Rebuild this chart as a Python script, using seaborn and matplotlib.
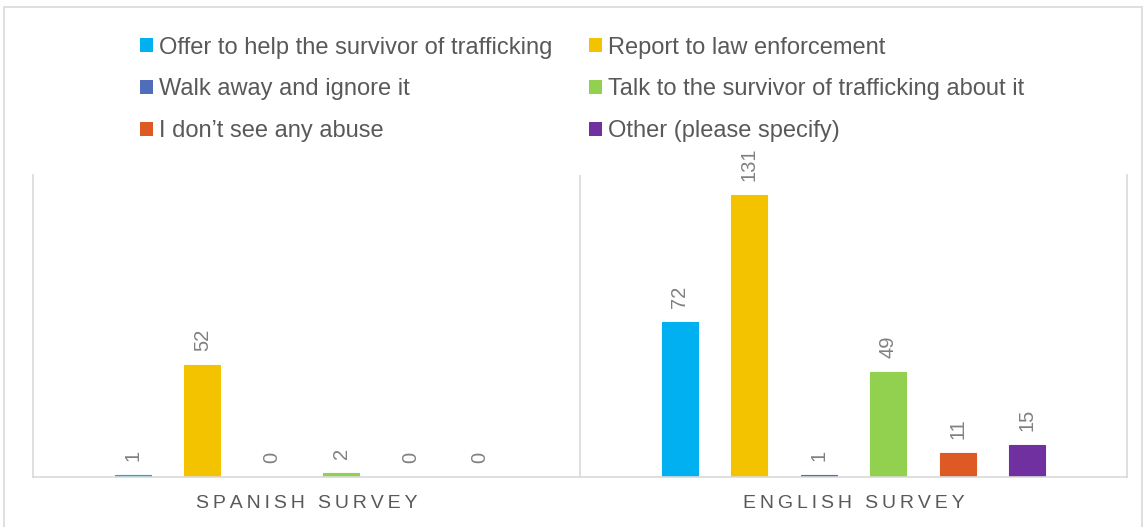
import matplotlib
matplotlib.use("Agg")
import matplotlib.pyplot as plt
import seaborn as sns
import pandas as pd
from matplotlib.patches import Rectangle, Patch

# Survey responses per group
surveys = ["SPANISH SURVEY", "ENGLISH SURVEY"]
responses = [
    "Offer to help the survivor of trafficking",
    "Report to law enforcement",
    "Walk away and ignore it",
    "Talk to the survivor of trafficking about it",
    "I don\u2019t see any abuse",
    "Other (please specify)",
]
spanish_counts = [1, 52, 0, 2, 0, 0]
english_counts = [72, 131, 1, 49, 11, 15]
colors = ["#00B0F0", "#F3C300", "#4F6DB8", "#92D050", "#DD5A24", "#7030A0"]

rows = []
for survey, counts in zip(surveys, [spanish_counts, english_counts]):
    for resp, c in zip(responses, counts):
        rows.append({"survey": survey, "response": resp, "count": c})
df = pd.DataFrame(rows)

sns.set_theme(style="white")
plt.rcParams["font.family"] = ["Liberation Sans", "DejaVu Sans"]

fig = plt.figure(figsize=(11.46, 5.27), dpi=100)
ax = fig.add_axes([0.0288, 0.0949, 0.9546, 0.5731])

sns.barplot(
    data=df, x="survey", y="count", hue="response", hue_order=responses,
    order=surveys, palette=colors, width=0.762, gap=0.48, ax=ax,
    legend=False, saturation=1, errorbar=None,
)
# thin outline in the fill colour keeps very small bars visible
for container in ax.containers:
    for bar in container:
        bar.set_edgecolor(bar.get_facecolor())
        bar.set_linewidth(0.8)

ax.set_xlim(-0.5, 1.5)
ax.set_ylim(0, 140.3)
ax.set_yticks([])
ax.set_xlabel("")
ax.set_ylabel("")

# Letter-spaced category labels
def spaced(s):
    return "\u2009".join(s)

ax.set_xticks([0, 1])
ax.set_xticklabels([spaced(s) for s in surveys])
ax.tick_params(axis="x", length=0, pad=13, labelsize=14, labelcolor="#595959")

grid_col = "#D9D9D9"
ax.spines["top"].set_visible(False)
for side in ["left", "right", "bottom"]:
    ax.spines[side].set_color(grid_col)
    ax.spines[side].set_linewidth(1.2)
ax.axvline(0.5, color=grid_col, lw=1.2)

# Value labels, rotated above each bar
for container in ax.containers:
    ax.bar_label(container, labels=[f"{int(v)}" for v in container.datavalues],
                 rotation=90, padding=10, fontsize=14.5, color="#808080")

# Legend: three rows, filled row by row
order = [0, 2, 4, 1, 3, 5]
handles = [Patch(facecolor=colors[i], edgecolor="none") for i in order]
labels = [responses[i] for i in order]
fig.legend(
    handles, labels, ncol=2, loc="upper left",
    bbox_to_anchor=(0.1034, 0.971), frameon=False, fontsize=17,
    labelcolor="#595959", handlelength=0.55, handleheight=0.55,
    handletextpad=0.25, columnspacing=1.58, labelspacing=0.84,
)

# Outer chart border
fig.patches.append(Rectangle((0.0035, -0.01), 0.993, 0.997, transform=fig.transFigure,
                             fill=False, edgecolor="#D9D9D9", lw=1.2))

fig.savefig("out.png", dpi=100, facecolor="white")
